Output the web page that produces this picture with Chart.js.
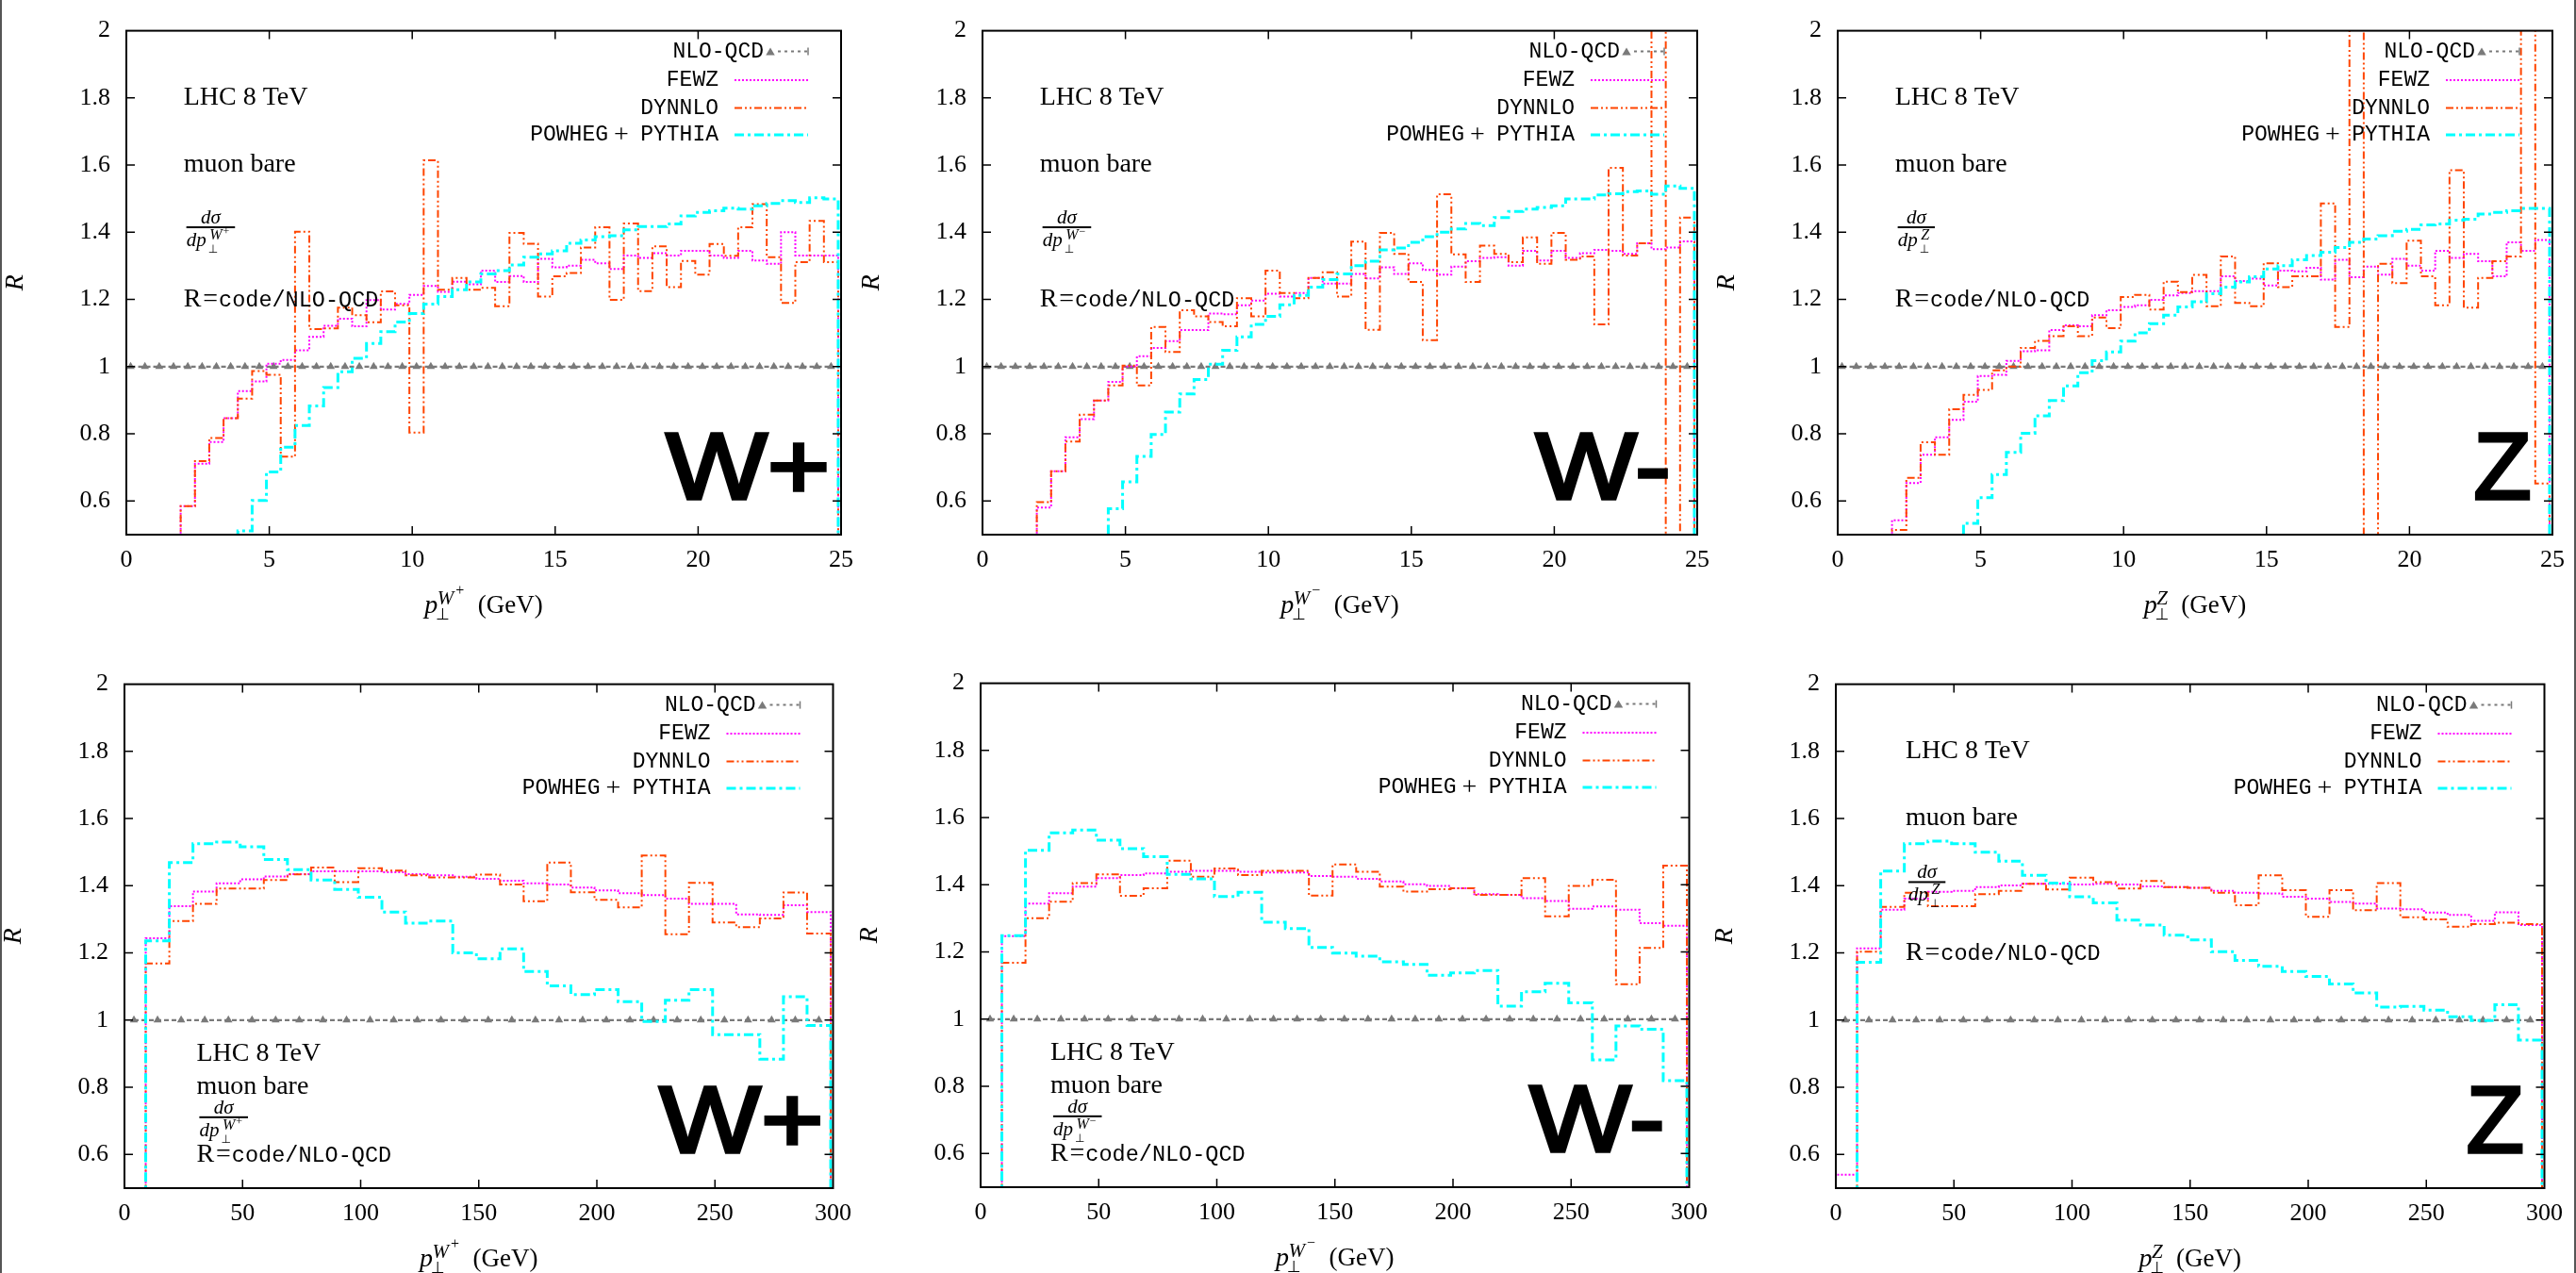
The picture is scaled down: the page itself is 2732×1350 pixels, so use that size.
<!DOCTYPE html>
<html>
<head>
<meta charset="utf-8">
<script src="https://cdn.jsdelivr.net/npm/chart.js@4.4.1/dist/chart.umd.min.js"></script>
<style>
html,body{margin:0;padding:0;background:#fff;width:2732px;height:1350px;overflow:hidden;position:relative}
canvas{position:absolute}
.edge{position:absolute;top:0;width:2px;height:1350px;background:#555}
</style>
</head>
<body>
<div class="edge" style="left:0"></div>
<div class="edge" style="left:2730px"></div>
<script>
// ---------------- categories (bin edges / centres / ticks) ----------------
const topEdges = [-0.1,0.4,0.9,1.4,1.9,2.4,2.9,3.4,3.9,4.4,4.9,5.4,5.9,6.4,6.9,7.4,7.9,8.4,8.9,9.4,
  9.9,10.4,10.9,11.4,11.9,12.4,12.9,13.4,13.9,14.4,14.9,15.4,15.9,16.4,16.9,17.4,17.9,18.4,18.9,19.4,
  19.9,20.4,20.9,21.4,21.9,22.4,22.9,23.4,23.9,24.4,24.9];
const topCenters = [0.15,0.65,1.15,1.65,2.15,2.65,3.15,3.65,4.15,4.65,5.15,5.65,6.15,6.65,7.15,7.65,8.15,8.65,9.15,9.65,
  10.15,10.65,11.15,11.65,12.15,12.65,13.15,13.65,14.15,14.65,15.15,15.65,16.15,16.65,17.15,17.65,18.15,18.65,19.15,19.65,
  20.15,20.65,21.15,21.65,22.15,22.65,23.15,23.65,24.15,24.65];
const bottomEdges = [-1,9,19,29,39,49,59,69,79,89,99,109,119,129,139,149,159,169,179,189,199,209,219,229,239,249,259,269,279,289,299];
const bottomCenters = [4,14,24,34,44,54,64,74,84,94,104,114,124,134,144,154,164,174,184,194,204,214,224,234,244,254,264,274,284,294];
const topXTicks = [0,5,10,15,20,25];
const bottomXTicks = [0,50,100,150,200,250,300];
const yTicks = [0.6,0.8,1,1.2,1.4,1.6,1.8,2];
const seriesNames = ['NLO-QCD','FEWZ','DYNNLO','POWHEG + PYTHIA'];

// ---------------- values ----------------
const nloTop = [1,1,1,1,1,1,1,1,1,1,1,1,1,1,1,1,1,1,1,1,1,1,1,1,1,1,1,1,1,1,1,1,1,1,1,1,1,1,1,1,1,1,1,1,1,1,1,1,1,1];
const nloBottom = [1,1,1,1,1,1,1,1,1,1,1,1,1,1,1,1,1,1,1,1,1,1,1,1,1,1,1,1,1,1];

// W+ , pT 0-25
const wpTopFEWZ = [0,0,0,0,0.585,0.711,0.776,0.847,0.927,0.956,
  1.009,1.020,1.049,1.089,1.122,1.143,1.120,1.198,1.170,1.187,
  1.214,1.240,1.223,1.253,1.245,1.286,1.252,1.270,1.252,1.321,
  1.296,1.301,1.318,1.308,1.291,1.331,1.324,1.338,1.331,1.345,
  1.345,1.331,1.324,1.345,1.316,1.306,1.400,1.331,1.331,1.331,0];
const wpTopDYNNLO = [0,0,0,0,0.585,0.719,0.788,0.847,0.905,0.987,
  0.976,0.732,1.402,1.112,1.114,1.176,1.153,1.132,1.224,1.183,
  0.804,1.614,1.229,1.264,1.229,1.235,1.180,1.398,1.366,1.209,
  1.269,1.279,1.355,1.415,1.199,1.426,1.225,1.358,1.237,1.315,
  1.274,1.365,1.330,1.415,1.484,1.326,1.190,1.311,1.434,1.311,0];
const wpTopPOWHEG = [0,0,0,0,0,0,0,0,0.511,0.602,
  0.687,0.760,0.825,0.883,0.938,0.985,1.025,1.069,1.104,1.133,
  1.158,1.186,1.209,1.229,1.252,1.276,1.286,1.303,1.326,1.336,
  1.345,1.367,1.377,1.387,1.390,1.407,1.417,1.417,1.425,1.449,
  1.459,1.464,1.472,1.469,1.479,1.486,1.494,1.489,1.503,1.499,0];

// W- , pT 0-25
const wmTopFEWZ = [0,0,0,0,0.581,0.689,0.790,0.844,0.899,0.955,
  1.000,1.031,1.056,1.076,1.109,1.109,1.158,1.156,1.183,1.197,
  1.217,1.209,1.219,1.264,1.247,1.247,1.276,1.263,1.296,1.276,
  1.308,1.288,1.274,1.298,1.314,1.324,1.326,1.301,1.345,1.316,
  1.345,1.324,1.338,1.348,1.345,1.336,1.367,1.350,1.355,1.373,0];
const wmTopDYNNLO = [0,0,0,0,0.597,0.689,0.777,0.857,0.899,0.944,
  1.003,0.944,1.118,1.044,1.168,1.150,1.133,1.120,1.204,1.150,
  1.286,1.219,1.204,1.264,1.281,1.209,1.372,1.110,1.398,1.336,
  1.252,1.079,1.513,1.334,1.252,1.360,1.336,1.311,1.385,1.306,
  1.398,1.318,1.328,1.126,1.592,1.331,1.367,2.600,0.200,1.444,0];
const wmTopPOWHEG = [0,0,0,0,0,0,0,0,0,0.577,
  0.657,0.733,0.798,0.865,0.919,0.962,1.007,1.049,1.089,1.126,
  1.150,1.184,1.212,1.237,1.259,1.276,1.301,1.314,1.348,1.353,
  1.370,1.387,1.400,1.410,1.426,1.420,1.444,1.462,1.469,1.474,
  1.479,1.499,1.499,1.511,1.515,1.521,1.523,1.513,1.538,1.531,0];

// Z , pT 0-25
const zTopFEWZ = [0,0,0,0,0.543,0.654,0.738,0.790,0.842,0.896,
  0.972,0.976,1.017,1.046,1.049,1.109,1.123,1.120,1.153,1.168,
  1.178,1.183,1.199,1.212,1.219,1.225,1.225,1.269,1.255,1.262,
  1.242,1.286,1.284,1.294,1.259,1.318,1.266,1.298,1.274,1.321,
  1.301,1.286,1.345,1.324,1.336,1.314,1.269,1.370,1.345,1.377,0];
const zTopDYNNLO = [0,0,0,0,0.514,0.669,0.775,0.738,0.873,0.916,
  0.931,0.989,1.000,1.056,1.077,1.091,1.120,1.091,1.146,1.115,
  1.207,1.214,1.170,1.253,1.222,1.273,1.180,1.328,1.190,1.180,
  1.308,1.237,1.269,1.269,1.486,1.118,2.600,0.200,1.306,1.249,
  1.375,1.269,1.183,1.585,1.176,1.264,1.314,1.328,2.600,0.652,0];
const zTopPOWHEG = [0,0,0,0,0,0,0,0,0,0.534,
  0.610,0.679,0.745,0.802,0.854,0.899,0.943,0.982,1.018,1.044,
  1.076,1.101,1.128,1.153,1.178,1.193,1.217,1.237,1.252,1.268,
  1.291,1.301,1.318,1.331,1.341,1.355,1.370,1.380,1.390,1.403,
  1.409,1.422,1.425,1.436,1.439,1.454,1.459,1.464,1.471,1.471,0];

// W+ , pT 0-300
const wpBotFEWZ = [0,1.244,1.339,1.383,1.407,1.419,1.428,1.435,1.443,1.443,
  1.443,1.440,1.435,1.431,1.427,1.421,1.415,1.407,1.404,1.395,
  1.386,1.378,1.372,1.362,1.346,1.346,1.315,1.313,1.342,1.322,0];
const wpBotDYNNLO = [0,1.169,1.295,1.346,1.392,1.392,1.417,1.434,1.454,1.411,
  1.452,1.445,1.431,1.425,1.425,1.433,1.404,1.354,1.469,1.381,
  1.358,1.336,1.490,1.256,1.409,1.291,1.277,1.303,1.380,1.258,0];
const wpBotPOWHEG = [0,1.236,1.469,1.525,1.530,1.516,1.478,1.448,1.417,1.389,
  1.366,1.322,1.289,1.295,1.200,1.183,1.212,1.145,1.102,1.076,
  1.091,1.055,0.996,1.059,1.091,0.957,0.957,0.884,1.070,0.984,0];

// W- , pT 0-300
const wmBotFEWZ = [0,1.247,1.344,1.375,1.395,1.420,1.429,1.434,1.439,1.442,
  1.442,1.439,1.437,1.437,1.426,1.424,1.418,1.410,1.402,1.397,
  1.390,1.372,1.370,1.360,1.352,1.329,1.336,1.326,1.286,1.278,0];
const wmBotDYNNLO = [0,1.168,1.301,1.350,1.405,1.431,1.367,1.390,1.472,1.424,
  1.449,1.429,1.442,1.442,1.368,1.461,1.439,1.395,1.380,1.387,
  1.390,1.370,1.370,1.420,1.306,1.397,1.415,1.104,1.212,1.457,0];
const wmBotPOWHEG = [0,1.249,1.503,1.555,1.563,1.533,1.508,1.484,1.431,1.418,
  1.365,1.378,1.289,1.270,1.214,1.197,1.188,1.171,1.163,1.131,
  1.138,1.145,1.039,1.082,1.107,1.049,0.879,0.980,0.970,0.817,0];

// Z , pT 0-300
const zBotFEWZ = [0.540,1.214,1.329,1.362,1.382,1.385,1.396,1.401,1.406,1.406,
  1.404,1.406,1.404,1.398,1.396,1.394,1.385,1.379,1.377,1.367,
  1.362,1.352,1.347,1.332,1.330,1.320,1.313,1.296,1.321,1.283,0];
const zBotDYNNLO = [0,1.204,1.337,1.379,1.339,1.339,1.375,1.385,1.406,1.389,
  1.424,1.411,1.392,1.414,1.396,1.394,1.379,1.342,1.431,1.387,
  1.308,1.387,1.327,1.408,1.306,1.300,1.278,1.286,1.290,1.286,0];
const zBotPOWHEG = [0,1.172,1.444,1.525,1.533,1.525,1.500,1.473,1.431,1.408,
  1.367,1.349,1.298,1.283,1.253,1.239,1.204,1.178,1.160,1.145,
  1.130,1.108,1.081,1.039,1.041,1.030,1.010,0.999,1.046,0.941,0];

// ---------------- styling / layout ----------------
const SERIF = '"Liberation Serif", "DejaVu Serif", serif';
const MONO = '"Liberation Mono", "DejaVu Sans Mono", monospace';
const SANS = '"Liberation Sans", "DejaVu Sans", sans-serif';
const GREY = '#7a7a7a', MAG = '#ff00ff', ORG = '#ff4500', CYA = '#00ffff';
const PW = 763, PH = 543, YW = 134, XH = 110, PADR = 20, PADT = 24;

const panels = [
  {px:134, py:24, edges:topEdges, centers:topCenters, xMax:25, xTicks:topXTicks, nlo:nloTop,
   fewz:wpTopFEWZ, dyn:wpTopDYNNLO, pow:wpTopPOWHEG, sup:'W', sign:'+',
   big:{text:'W+', x:24.69, y:0.6, sx:1.14}, ann:{x:2, lhc:1.8, muon:1.6, frac:1.415, r:1.2}},
  {px:1042, py:24, edges:topEdges, centers:topCenters, xMax:25, xTicks:topXTicks, nlo:nloTop,
   fewz:wmTopFEWZ, dyn:wmTopDYNNLO, pow:wmTopPOWHEG, sup:'W', sign:'\u2212',
   big:{text:'W-', x:24.15, y:0.6, sx:1.14}, ann:{x:2, lhc:1.8, muon:1.6, frac:1.415, r:1.2}},
  {px:1949, py:24, edges:topEdges, centers:topCenters, xMax:25, xTicks:topXTicks, nlo:nloTop,
   fewz:zTopFEWZ, dyn:zTopDYNNLO, pow:zTopPOWHEG, sup:'Z', sign:'',
   big:{text:'Z', x:24.33, y:0.6, sx:1.0}, ann:{x:2, lhc:1.8, muon:1.6, frac:1.415, r:1.2}},
  {px:132, py:717, edges:bottomEdges, centers:bottomCenters, xMax:300, xTicks:bottomXTicks, nlo:nloBottom,
   fewz:wpBotFEWZ, dyn:wpBotDYNNLO, pow:wpBotPOWHEG, sup:'W', sign:'+',
   big:{text:'W+', x:296.9, y:0.6, sx:1.14}, ann:{x:30.5, lhc:0.9, muon:0.8, frac:0.711, r:0.598}},
  {px:1040, py:716, edges:bottomEdges, centers:bottomCenters, xMax:300, xTicks:bottomXTicks, nlo:nloBottom,
   fewz:wmBotFEWZ, dyn:wmBotDYNNLO, pow:wmBotPOWHEG, sup:'W', sign:'\u2212',
   big:{text:'W-', x:290.6, y:0.6, sx:1.14}, ann:{x:29.5, lhc:0.9, muon:0.8, frac:0.711, r:0.598}},
  {px:1947, py:717, edges:bottomEdges, centers:bottomCenters, xMax:300, xTicks:bottomXTicks, nlo:nloBottom,
   fewz:zBotFEWZ, dyn:zBotDYNNLO, pow:zBotPOWHEG, sup:'Z', sign:'',
   big:{text:'Z', x:292.1, y:0.6, sx:1.0}, ann:{x:29.5, lhc:1.8, muon:1.6, frac:1.411, r:1.2}}
];

// ---------------- drawing helpers ----------------
function drawFrac(ctx, x0, by, sup, sign) {
  ctx.textAlign = 'left'; ctx.textBaseline = 'alphabetic'; ctx.fillStyle = '#000';
  const base = by + 20;
  ctx.font = 'italic 21px ' + SERIF;
  ctx.fillText('dp', x0, base);
  const dw = ctx.measureText('dp').width;
  ctx.font = '12px "DejaVu Sans"';
  ctx.fillText('\u22A5', x0 + dw + 2, base + 7);
  ctx.font = 'italic 16px ' + SERIF;
  ctx.fillText(sup, x0 + dw + 3.5, base - 7);
  let sw = ctx.measureText(sup).width;
  if (sign) {
    ctx.font = '12px ' + SERIF;
    ctx.fillText(sign, x0 + dw + 4.5 + sw, base - 12);
    sw += ctx.measureText(sign).width + 1;
  }
  const total = dw + 3.5 + sw + 6;
  ctx.fillRect(x0, by - 1, total, 2);
  ctx.font = 'italic 21px ' + SERIF;
  ctx.textAlign = 'center';
  ctx.fillText('d\u03C3', x0 + total / 2, by - 4);
}

function drawXTitle(ctx, cx, yc, sup, sign) {
  ctx.textAlign = 'left'; ctx.textBaseline = 'alphabetic'; ctx.fillStyle = '#000';
  ctx.font = 'italic 21px ' + SERIF;
  const supW = ctx.measureText(sup).width;
  ctx.font = '16px ' + SERIF;
  const signW = sign ? ctx.measureText(sign).width + 2 : 0;
  ctx.font = '27px ' + SERIF;
  const gevW = ctx.measureText('(GeV)').width;
  const total = 13.5 + supW + signW + 14.5 + gevW;
  const x0 = cx - total / 2;
  const base = yc + 9;
  ctx.font = 'italic 28px ' + SERIF;
  ctx.fillText('p', x0, base);
  ctx.font = '17px "DejaVu Sans"';
  ctx.fillText('\u22A5', x0 + 12, base + 7);
  ctx.font = 'italic 21px ' + SERIF;
  ctx.fillText(sup, x0 + 13.5, base - 9.5);
  if (sign) {
    ctx.font = '16px ' + SERIF;
    ctx.fillText(sign, x0 + 13.5 + supW + 2, base - 19);
  }
  ctx.font = '27px ' + SERIF;
  ctx.fillText('(GeV)', x0 + 13.5 + supW + signW + 14.5, base);
}

function drawTri(ctx, cx, cy, r, col) {
  ctx.fillStyle = col;
  ctx.beginPath();
  ctx.moveTo(cx, cy - r);
  ctx.lineTo(cx + r * 0.95, cy + r * 0.6);
  ctx.lineTo(cx - r * 0.95, cy + r * 0.6);
  ctx.closePath();
  ctx.fill();
}

function drawLegend(ctx, chart) {
  const a = chart.chartArea, ds = chart.data.datasets;
  const R = a.right, T = a.top;
  const rows = [T + 22, T + 52.5, T + 82, T + 110.5];
  ctx.fillStyle = '#000';
  ctx.textAlign = 'right'; ctx.textBaseline = 'middle';
  ctx.font = '23px ' + MONO;
  // NLO-QCD row
  ctx.fillText(ds[0].label, R - 82, rows[0]);
  drawTri(ctx, R - 75, rows[0] + 1, 5, GREY);
  ctx.strokeStyle = GREY; ctx.lineWidth = 2; ctx.setLineDash([3, 4]);
  ctx.beginPath(); ctx.moveTo(R - 67, rows[0]); ctx.lineTo(R - 36, rows[0]); ctx.stroke();
  ctx.setLineDash([]); ctx.lineWidth = 1.5;
  ctx.beginPath(); ctx.moveTo(R - 35, rows[0] - 4); ctx.lineTo(R - 35, rows[0] + 4); ctx.stroke();
  // other rows
  for (let i = 1; i < 4; i++) {
    const y = rows[i];
    ctx.fillStyle = '#000';
    ctx.font = '23px ' + MONO;
    if (i === 3) {
      const parts = ds[i].label.split(' + ');
      ctx.fillText(parts[1], R - 130, y);
      ctx.textAlign = 'center'; ctx.font = '28px ' + SERIF;
      ctx.fillText('+', R - 233, y + 1);
      ctx.textAlign = 'right'; ctx.font = '23px ' + MONO;
      ctx.fillText(parts[0], R - 247, y);
    } else {
      ctx.fillText(ds[i].label, R - 130, y);
    }
    ctx.strokeStyle = ds[i].borderColor; ctx.lineWidth = ds[i].borderWidth;
    ctx.setLineDash(ds[i].borderDash);
    ctx.beginPath(); ctx.moveTo(R - 113, y); ctx.lineTo(R - 35, y); ctx.stroke();
    ctx.setLineDash([]);
  }
}

function makeDeco(p) {
  return {
    id: 'deco',
    afterDatasetsDraw(chart) {
      const ctx = chart.ctx, a = chart.chartArea, xs = chart.scales.x, ys = chart.scales.y;
      ctx.save();
      // frame
      ctx.strokeStyle = '#000'; ctx.lineWidth = 2; ctx.setLineDash([]);
      ctx.strokeRect(a.left, a.top, a.right - a.left, a.bottom - a.top);
      // inward tick marks on all four sides
      ctx.lineWidth = 1.5;
      ctx.beginPath();
      for (const t of yTicks) {
        const py = ys.getPixelForValue(t);
        if (py < a.top + 2 || py > a.bottom - 2) continue;
        ctx.moveTo(a.left, py); ctx.lineTo(a.left + 9, py);
        ctx.moveTo(a.right, py); ctx.lineTo(a.right - 9, py);
      }
      for (const t of p.xTicks) {
        const px = xs.getPixelForValue(t);
        if (px < a.left + 2 || px > a.right - 2) continue;
        ctx.moveTo(px, a.bottom); ctx.lineTo(px, a.bottom - 9);
        ctx.moveTo(px, a.top); ctx.lineTo(px, a.top + 9);
      }
      ctx.stroke();

      // legend
      drawLegend(ctx, chart);

      // text annotations
      const an = p.ann;
      const lx = xs.getPixelForValue(an.x);
      ctx.fillStyle = '#000'; ctx.textAlign = 'left'; ctx.textBaseline = 'middle';
      ctx.font = '28px ' + SERIF;
      ctx.fillText('LHC 8 TeV', lx, ys.getPixelForValue(an.lhc));
      ctx.fillText('muon bare', lx, ys.getPixelForValue(an.muon));
      drawFrac(ctx, lx + 3, ys.getPixelForValue(an.frac), p.sup, p.sign);
      const ry = ys.getPixelForValue(an.r);
      ctx.textAlign = 'left'; ctx.textBaseline = 'middle';
      ctx.font = '28px ' + SERIF;
      ctx.fillText('R', lx, ry);
      const rw = ctx.measureText('R').width;
      ctx.fillText('=', lx + rw + 2, ry);
      const ew = ctx.measureText('=').width;
      ctx.font = '23.5px ' + MONO;
      ctx.fillText('code/NLO-QCD', lx + rw + ew + 3, ry + 1);

      // big process label (medium weight: regular glyphs thickened by an outline)
      const b = p.big;
      ctx.save();
      ctx.translate(xs.getPixelForValue(b.x), ys.getPixelForValue(b.y));
      ctx.scale(b.sx, 1);
      ctx.font = '100px ' + SANS;
      ctx.textAlign = 'right'; ctx.textBaseline = 'alphabetic';
      ctx.fillStyle = '#000'; ctx.strokeStyle = '#000'; ctx.lineWidth = 3.5; ctx.lineJoin = 'miter';
      ctx.fillText(b.text, -2, -2);
      ctx.strokeText(b.text, -2, -2);
      ctx.restore();

      // axis titles
      drawXTitle(ctx, (a.left + a.right) / 2, a.bottom + 74, p.sup, p.sign);
      ctx.save();
      ctx.translate(a.left - 117, (a.top + a.bottom) / 2);
      ctx.rotate(-Math.PI / 2);
      ctx.font = 'italic 28px ' + SERIF;
      ctx.textAlign = 'center'; ctx.textBaseline = 'middle'; ctx.fillStyle = '#000';
      ctx.fillText('R', 0, 0);
      ctx.restore();

      ctx.restore();
    }
  };
}

function config(p) {
  const mk = (xs, ys) => xs.map((x, i) => ({x: x, y: ys[i]}));
  return {
    type: 'line',
    data: {datasets: [
      {label: seriesNames[0], data: mk(p.centers, p.nlo), borderColor: GREY, borderWidth: 2.2, borderDash: [5, 3],
       pointStyle: 'triangle', pointRadius: 5, pointBackgroundColor: GREY, pointBorderColor: GREY, pointBorderWidth: 0, order: 4},
      {label: seriesNames[1], data: mk(p.edges, p.fewz), stepped: true, borderColor: MAG, borderWidth: 2,
       borderDash: [2, 2], pointRadius: 0, order: 3},
      {label: seriesNames[2], data: mk(p.edges, p.dyn), stepped: true, borderColor: ORG, borderWidth: 2,
       borderDash: [8, 3, 2, 3, 2, 3], pointRadius: 0, order: 2},
      {label: seriesNames[3], data: mk(p.edges, p.pow), stepped: true, borderColor: CYA, borderWidth: 3,
       borderDash: [10, 4, 3, 4], pointRadius: 0, order: 1}
    ]},
    options: {
      responsive: false, animation: false, devicePixelRatio: 1, events: [],
      elements: {line: {tension: 0, fill: false}},
      layout: {autoPadding: false, padding: {left: 0, right: PADR, top: PADT, bottom: 0}},
      plugins: {legend: {display: false}, tooltip: {enabled: false}},
      scales: {
        x: {type: 'linear', min: 0, max: p.xMax,
            grid: {display: false, drawTicks: false}, border: {display: false},
            afterBuildTicks: s => { s.ticks = p.xTicks.map(v => ({value: v})); },
            afterFit: s => { s.height = XH; },
            ticks: {color: '#000', font: {family: SERIF, size: 26}, padding: 12, maxRotation: 0, autoSkip: false,
                    callback: v => String(v)}},
        y: {type: 'linear', min: 0.5, max: 2,
            grid: {display: false, drawTicks: false}, border: {display: false},
            afterBuildTicks: s => { s.ticks = yTicks.map(v => ({value: v})); },
            afterFit: s => { s.width = YW; },
            ticks: {color: '#000', font: {family: SERIF, size: 26}, padding: 17, autoSkip: false,
                    callback: v => String(Math.round(v * 10) / 10)}}
      }
    },
    plugins: [makeDeco(p)]
  };
}

for (const p of panels) {
  const cv = document.createElement('canvas');
  cv.width = YW + PW + PADR;
  cv.height = PADT + PH + XH;
  cv.style.left = (p.px - YW) + 'px';
  cv.style.top = (p.py - PADT) + 'px';
  document.body.appendChild(cv);
  new Chart(cv.getContext('2d'), config(p));
}
</script>
</body>
</html>
